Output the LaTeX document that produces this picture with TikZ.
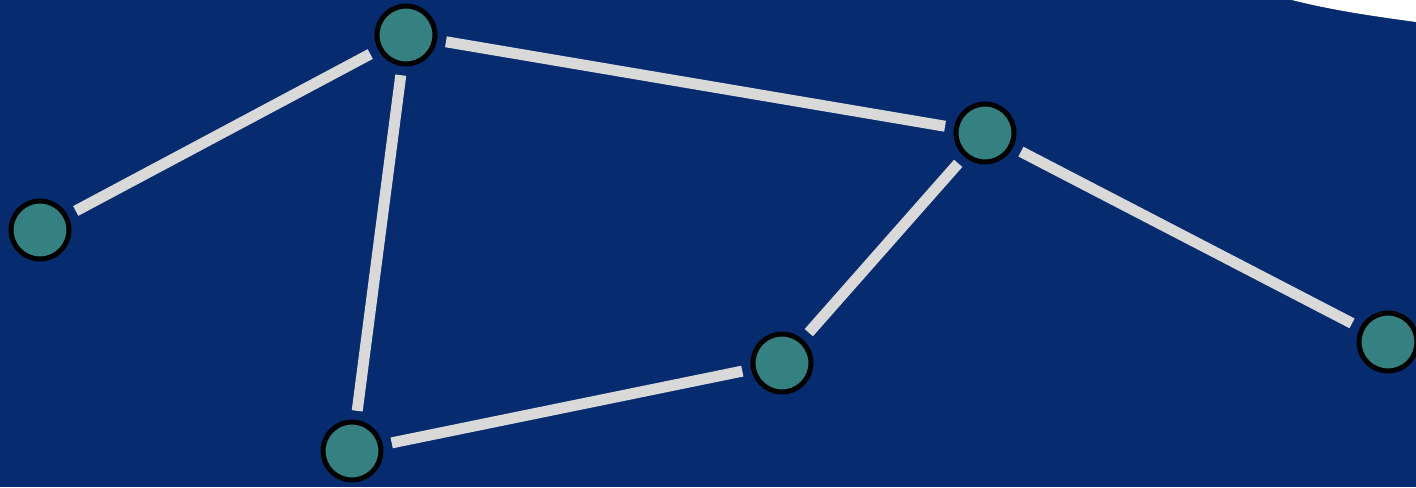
\documentclass[tikz,border=0pt]{standalone}
\usepackage{tikz}
\usetikzlibrary{positioning}
\definecolor{bgblue}{HTML}{072B6F}
\definecolor{nodeteal}{HTML}{358080}
\definecolor{edgegray}{HTML}{D9D9D9}
\tikzset{
  vert/.style={circle,draw=black,fill=nodeteal,line width=0.05cm,minimum size=0.58cm,inner sep=0pt},
  link/.style={edgegray,line width=0.11cm,shorten <=0.09cm,shorten >=0.09cm}
}
\begin{document}
\begin{tikzpicture}
      \useasboundingbox (0,0) rectangle (14.16,4.87);
      \clip (0,0) rectangle (14.16,4.87);
      \fill[bgblue] (0,0) rectangle (14.16,4.87);
      % white arc top right
      \fill[white] (12.92,4.87) .. controls (13.35,4.76) and (13.8,4.70) .. (14.16,4.65) -- (14.16,4.87) -- cycle;
      % vertices
      \node[vert] (a) at (4.06,4.52) {};
      \node[vert] (b) at (0.40,2.57) {};
      \node[vert] (c) at (9.85,3.54) {};
      \node[vert] (d) at (7.82,1.24) {};
      \node[vert] (e) at (13.88,1.45) {};
      \node[vert] (f) at (3.52,0.36) {};
      % edges
      \draw[link] (a) -- (b);
      \draw[link] (a) -- (c);
      \draw[link] (a) -- (f);
      \draw[link] (c) -- (d);
      \draw[link] (c) -- (e);
      \draw[link] (f) -- (d);
\end{tikzpicture}
\end{document}
